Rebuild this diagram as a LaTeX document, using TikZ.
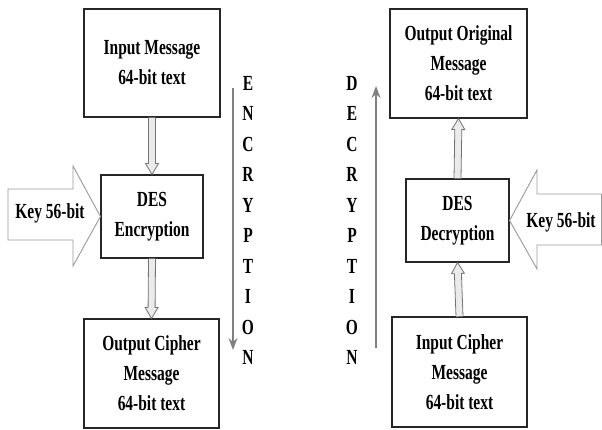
\documentclass[tikz,border=0pt]{standalone}
\usepackage{fontspec}
\setmainfont{Liberation Serif}[FakeStretch=0.72]
\usetikzlibrary{arrows.meta,calc}
\tikzset{
  box/.style={draw=black!85, line width=1.1pt, fill=white, align=center, inner sep=0pt,
    font=\fontsize{21.5}{30}\selectfont\bfseries},
  hollow/.style={draw=black!55, line width=0.8pt, fill=black!8,
    to path={
      let \p{h}=($(\tikztotarget)!11pt!(\tikztostart)$) in
      ($(\tikztostart)!3.5pt!90:(\tikztotarget)$) --
      ($(\p{h})!3.5pt!90:(\tikztotarget)$) --
      ($(\p{h})!6.5pt!90:(\tikztotarget)$) --
      (\tikztotarget) --
      ($(\p{h})!6.5pt!-90:(\tikztotarget)$) --
      ($(\p{h})!3.5pt!-90:(\tikztotarget)$) --
      ($(\tikztostart)!3.5pt!-90:(\tikztotarget)$)
    }},
  keyarrow/.style={draw=black!40, line width=0.9pt, fill=white},
  dirarrow/.style={draw=black!50, line width=1.6pt, -{Stealth[length=12pt, width=9pt]}},
  letters/.style={align=center, inner sep=0pt, font=\fontsize{21.5}{30.5}\selectfont\bfseries},
  keytext/.style={inner sep=0pt, font=\fontsize{21.5}{25}\selectfont\bfseries}
}
\begin{document}
\begin{tikzpicture}[x=1pt, y=-1pt]
\useasboundingbox (0,0) rectangle (602,430);
% encryption side
\node[box, minimum width=136pt, minimum height=108pt] (inmsg) at (152,63) {Input Message\\64-bit text};
\node[box, minimum width=102pt, minimum height=83pt] (desenc) at (152,216.5) {DES\\Encryption};
\node[box, minimum width=135pt, minimum height=109pt] (outcip) at (151.5,373.5) {Output Cipher\\Message\\64-bit text};
\path[hollow] (inmsg.south) to (desenc.north);
\path[hollow] (desenc.south) to (outcip.north);
\draw[keyarrow] (8,189) -- (73,189) -- (73,166) -- (desenc.west) -- (73,266) -- (73,240) -- (8,240) -- cycle;
\node[keytext] (keyl) at (50,213) {Key 56-bit};
\coordinate (encs) at (233,88);
\coordinate (ence) at (233,350);
\draw[dirarrow] (encs) -- (ence);
\node[letters] (enc) at (248,220.5) {E\\N\\C\\R\\Y\\P\\T\\I\\O\\N};
% decryption side
\node[box, minimum width=137pt, minimum height=109pt] (outorg) at (458.5,63.5) {Output Original\\Message\\64-bit text};
\node[box, minimum width=103pt, minimum height=83pt] (desdec) at (457.5,220.5) {DES\\Decryption};
\node[box, minimum width=135pt, minimum height=110pt] (incip) at (459.5,372) {Input Cipher\\Message\\64-bit text};
\path[hollow] (desdec.north) to (outorg.south);
\path[hollow] (incip.north) to (desdec.south);
\draw[keyarrow] (601.5,194) -- (537,194) -- (537,170) -- (desdec.east) -- (537,269) -- (537,245) -- (601.5,245) -- cycle;
\node[keytext] (keyr) at (561,222) {Key 56-bit};
\coordinate (decs) at (376,348);
\coordinate (dece) at (376,86);
\draw[dirarrow] (decs) -- (dece);
\node[letters] (dec) at (352,220.5) {D\\E\\C\\R\\Y\\P\\T\\I\\O\\N};
\end{tikzpicture}
\end{document}
